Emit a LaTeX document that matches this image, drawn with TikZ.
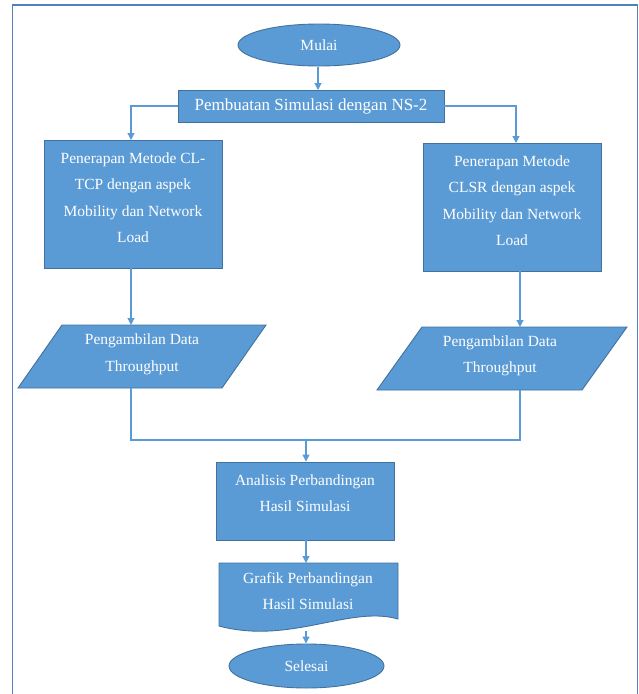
\documentclass[tikz,border=0pt]{standalone}
\usepackage{fontspec}
\setmainfont{Liberation Serif}
\usetikzlibrary{arrows.meta,shapes.geometric}
\definecolor{fillblue}{HTML}{5B9BD5}
\definecolor{edgeblue}{HTML}{41719C}
\definecolor{frameblue}{HTML}{4F81BD}
\begin{document}
\begin{tikzpicture}[x=1pt,y=-1pt,
  shp/.style={draw=edgeblue, fill=fillblue, line width=0.9pt, inner sep=0pt},
  txt/.style={text=white, align=center, inner sep=0pt, font=\fontsize{15.5}{26.5}\selectfont},
  conn/.style={draw=fillblue, line width=1.1pt},
  arr/.style={conn, -{Triangle[width=7pt,length=7pt]}}]
\useasboundingbox (0,0) rectangle (639,694);
\draw[frameblue, line width=1.1pt] (12.5,700) -- (12.5,5) -- (637.5,5) -- (637.5,700);

% nodes
\node[shp, ellipse, minimum width=162pt, minimum height=42pt] (mulai) at (319,45) {};
\node[txt] (mulaitxt) at (319,45) {Mulai};
\node[shp, minimum width=266pt, minimum height=32pt, txt, draw=edgeblue, fill=fillblue, font=\fontsize{17}{20}\selectfont] (build) at (311,106) {Pembuatan Simulasi dengan NS-2};

\node[shp, minimum width=178pt, minimum height=128pt] (left) at (133,204) {};
\node[txt] (lefttxt) at (133,197.5) {Penerapan Metode CL-\\TCP dengan aspek\\Mobility dan Network\\Load};
\node[shp, minimum width=178pt, minimum height=128pt] (right) at (512,207) {};
\node[txt] (righttxt) at (512,200.5) {Penerapan Metode\\CLSR dengan aspek\\Mobility dan Network\\Load};

% parallelograms
\draw[shp] (62,325) -- (266,325) -- (222,388) -- (18,388) -- cycle;
\coordinate (lparatop) at (131,325);
\coordinate (lparabot) at (131,388);
\node[txt] (lparatxt) at (142,354.5) {Pengambilan Data\\Throughput};
\draw[shp] (422,327) -- (627,327) -- (582,390) -- (377,390) -- cycle;
\coordinate (rparatop) at (520,327);
\coordinate (rparabot) at (520,390);
\node[txt] (rparatxt) at (500,356) {Pengambilan Data\\Throughput};

\node[shp, minimum width=178pt, minimum height=78pt] (anal) at (305,501) {};
\node[txt] (analtxt) at (305,493) {Analisis Perbandingan\\Hasil Simulasi};

\draw[shp] (219,563) -- (398,563) -- (398,619)
  .. controls (350,605) and (290,645) .. (219,626) -- cycle;
\coordinate (doctop) at (306,563);
\coordinate (docbot) at (306,631);
\node[txt] (doctxt) at (308,591) {Grafik Perbandingan\\Hasil Simulasi};

\node[shp, ellipse, minimum width=155pt, minimum height=44pt] (selesai) at (306.5,666) {};
\node[txt] (selesaitxt) at (306.5,666) {Selesai};

% connectors
\draw[arr] (318,66.5) -- (318,90);
\draw[arr] (build.west) -| (131,140);
\draw[arr] (build.east) -| (516,143);
\draw[arr] (left.south -| lparatop) -- (lparatop);
\draw[arr] (right.south -| rparatop) -- (rparatop);
\coordinate (merge) at (306,440);
\draw[conn] (lparabot) |- (merge) -| (rparabot);
\draw[arr] (merge) -- (anal.north -| merge);
\draw[arr] (anal.south -| doctop) -- (doctop);
\draw[arr] (docbot) -- (selesai.north -| docbot);
\end{tikzpicture}
\end{document}
